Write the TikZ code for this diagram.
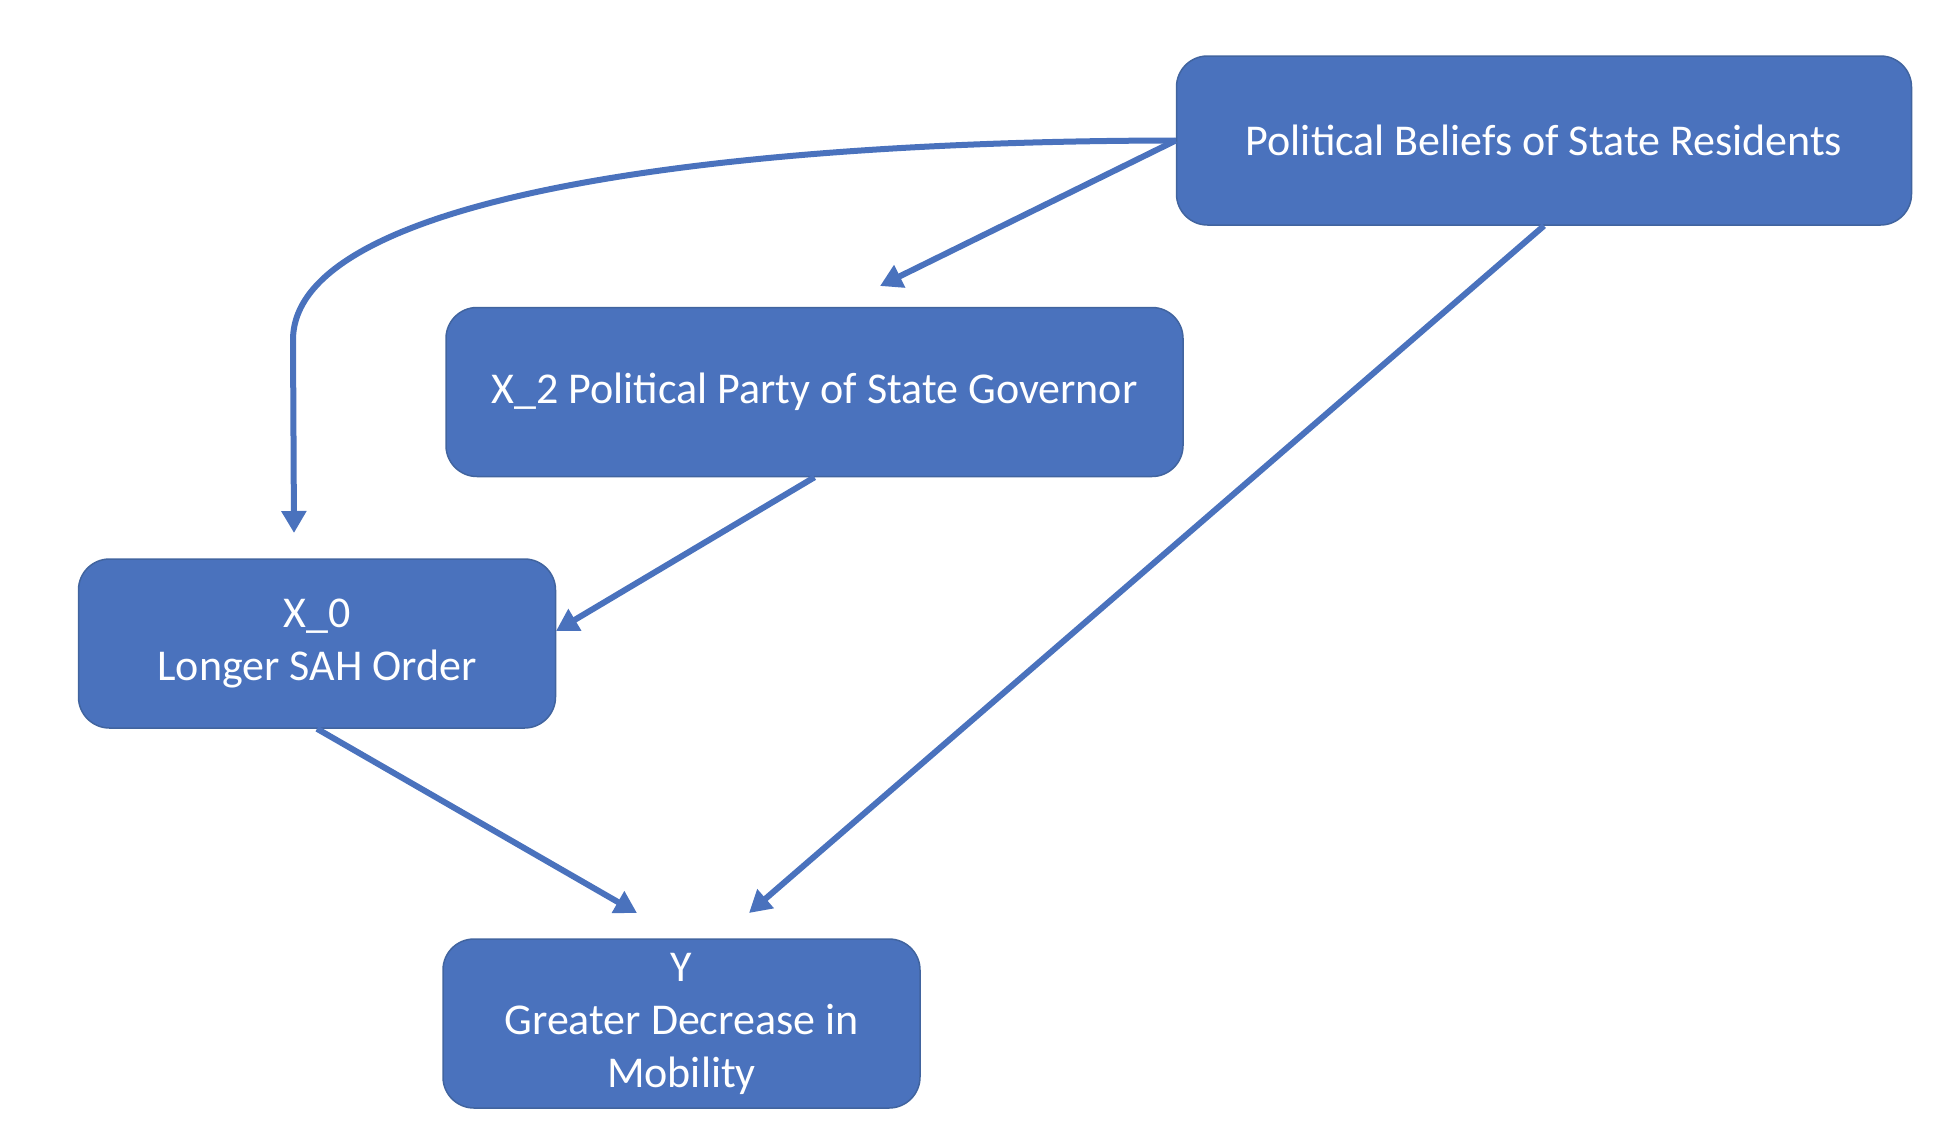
\documentclass[tikz,border=0pt]{standalone}
\usepackage{fontspec}
\setmainfont{Carlito}
\usetikzlibrary{arrows.meta}
\definecolor{boxblue}{HTML}{4A72BD}
\definecolor{boxedge}{HTML}{41649F}
\begin{document}
\begin{tikzpicture}[x=1pt,y=-1pt,
  box/.style={draw=boxedge,line width=1.5pt,fill=boxblue,rounded corners=31pt,
    text=white,align=center,inner sep=0pt,
    font=\fontsize{44}{53}\selectfont},
  conn/.style={draw=boxblue,line width=6pt,
    -{Triangle[length=22pt,width=24pt]}}]
\useasboundingbox (0,0) rectangle (1952,1144);
\node[box,minimum width=735pt,minimum height=169pt] (pb) at (1544,140.5) {Political Beliefs of State Residents};
\node[box,minimum width=737pt,minimum height=169pt] (x2) at (814.5,392) {X\_2 Political Party of State Governor};
\node[box,minimum width=477pt,minimum height=169pt] (x0) at (317,643.5) {X\_0\\Longer SAH Order};
\node[box,minimum width=477pt,minimum height=169pt] (y) at (681.5,1023.5) {Y\\Greater Decrease in\\Mobility};
\coordinate (t1) at (294,533);
\coordinate (t2) at (880,286);
\coordinate (t3) at (556,631);
\coordinate (t4) at (637,913);
\coordinate (t5) at (749,913);
\draw[conn] (pb.west) .. controls (700,141) and (293,200) .. (293,340) -- (t1);
\draw[conn] (pb.west) -- (t2);
\draw[conn] (x2.south) -- (t3);
\draw[conn] (x0.south) -- (t4);
\draw[conn] (pb.south) -- (t5);
\end{tikzpicture}
\end{document}
